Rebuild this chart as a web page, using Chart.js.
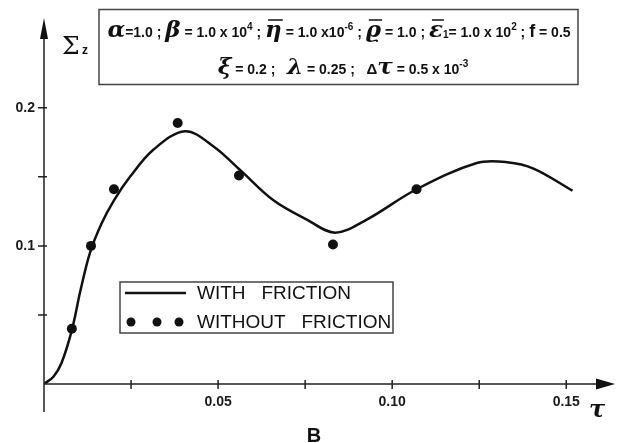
<!DOCTYPE html>
<html>
<head>
<meta charset="utf-8">
<script src="https://cdn.jsdelivr.net/npm/chart.js@4"></script>
<style>
  body { margin: 0; background: #fff; }
  canvas { display: block; }
</style>
</head>
<body>
<canvas id="myChart" width="628" height="443"></canvas>
<script>
// curve with friction (tau, sigma_z)
var tauFric   = [0, 0.0027, 0.005, 0.008, 0.0105, 0.0132, 0.0165, 0.0201, 0.0247, 0.0314, 0.0405, 0.0487, 0.0563, 0.0659, 0.0755, 0.0836, 0.0927, 0.107, 0.1243, 0.133, 0.1406, 0.1518];
var sigmaFric = [0, 0.0053, 0.015, 0.039, 0.068, 0.095, 0.116, 0.133, 0.150, 0.1696, 0.183, 0.172, 0.155, 0.133, 0.119, 0.1096, 0.119, 0.141, 0.160, 0.1606, 0.156, 0.140];

// points without friction
var tauNoFric   = [0.008, 0.0135, 0.0201, 0.0384, 0.056, 0.083, 0.107];
var sigmaNoFric = [0.040, 0.100, 0.141, 0.189, 0.151, 0.101, 0.141];

var xTickLabels = ['0.05', '0.10', '0.15'];
var yTickLabels = ['0.1', '0.2'];

var legendLabels = ['WITH   FRICTION', 'WITHOUT   FRICTION'];

function pairs(xs, ys) {
    return xs.map(function (x, i) { return { x: x, y: ys[i] }; });
}

var SANS = "'Liberation Sans', Arial, sans-serif";
var SERIF = "'DejaVu Serif', serif";

// parameter box rows: [text, kind]  g = greek, s = small, p = superscript, gb = greek with bar
var row1 = [
    ['α', 'g'], ['=1.0 ; ', 's'],
    ['β', 'g'], [' = 1.0 x 10', 's'], ['4', 'p'], [' ; ', 's'],
    ['η', 'gb'], [' = 1.0 x10', 's'], ['-6', 'p'], [' ; ', 's'],
    ['ϱ', 'gb'], [' = 1.0 ; ', 's'],
    ['ε', 'gb'], ['1', 'sub'], ['= 1.0 x 10', 's'], ['2', 'p'], [' ; ', 's'],
    ['f', 'f'], [' = 0.5', 's']
];
var row2 = [
    ['ξ', 'g'], [' = 0.2 ;   ', 's'],
    ['λ', 'g'], [' = 0.25 ;   ', 's'],
    ['Δ', 'd'], ['τ', 'g'], [' = 0.5 x 10', 's'], ['-3', 'p']
];

function segFont(kind) {
    if (kind == 'g' || kind == 'gb') return 'bold italic 23px ' + SERIF;
    if (kind == 'p' || kind == 'sub') return 'bold 10px ' + SANS;
    if (kind == 'f') return 'bold 18px ' + SANS;
    if (kind == 'd') return 'bold 15px ' + SANS;
    return 'bold 14px ' + SANS;
}

function drawRow(ctx, row, cx, base) {
    var total = 0;
    row.forEach(function (s) {
        ctx.font = segFont(s[1]);
        total += ctx.measureText(s[0]).width;
    });
    var x = cx - total / 2;
    row.forEach(function (s) {
        ctx.font = segFont(s[1]);
        var w = ctx.measureText(s[0]).width;
        var y = base;
        if (s[1] == 'p') y = base - 7;
        if (s[1] == 'sub') y = base + 1;
        ctx.fillText(s[0], x, y);
        if (s[1] == 'gb') {
            ctx.beginPath();
            ctx.lineWidth = 1.5;
            ctx.moveTo(x + 3, base - 17);
            ctx.lineTo(x + w + 1, base - 17);
            ctx.stroke();
        }
        x += w;
    });
}

var axesPlugin = {
    id: 'axesPlugin',
    afterDraw: function (chart) {
        var ctx = chart.ctx;
        var area = chart.chartArea;
        var xs = chart.scales.x, ys = chart.scales.y;
        var x0 = xs.getPixelForValue(0), y0 = ys.getPixelForValue(0);
        ctx.save();
        ctx.strokeStyle = '#222';
        ctx.fillStyle = '#111';
        ctx.lineWidth = 1.5;

        // axes
        ctx.beginPath();
        ctx.moveTo(x0, y0);
        ctx.lineTo(area.right - 10, y0);
        ctx.moveTo(x0, y0 + 28);
        ctx.lineTo(x0, area.top + 10);
        ctx.stroke();

        // arrow heads
        ctx.beginPath();
        ctx.moveTo(area.right, y0);
        ctx.lineTo(area.right - 19, y0 - 5.5);
        ctx.lineTo(area.right - 19, y0 + 5.5);
        ctx.closePath();
        ctx.fill();
        ctx.beginPath();
        ctx.moveTo(x0, area.top);
        ctx.lineTo(x0 - 4, area.top + 21);
        ctx.lineTo(x0 + 4, area.top + 21);
        ctx.closePath();
        ctx.fill();

        // tick marks
        ctx.beginPath();
        xs.ticks.forEach(function (t) {
            if (t.value <= 0 || t.value > 0.1501) return;
            var px = xs.getPixelForValue(t.value);
            ctx.moveTo(px, y0 - 4);
            ctx.lineTo(px, y0 + 5);
        });
        ys.ticks.forEach(function (t) {
            if (t.value <= 0 || t.value > 0.2001) return;
            var py = ys.getPixelForValue(t.value);
            ctx.moveTo(x0 - 6, py);
            ctx.lineTo(x0 + 3, py);
        });
        ctx.stroke();

        // axis titles
        ctx.font = '25px ' + SERIF;
        ctx.textBaseline = 'alphabetic';
        ctx.fillText('Σ', 62, 54);
        ctx.font = 'bold 12px ' + SANS;
        ctx.fillText('z', 82, 54);
        ctx.font = 'bold italic 24px ' + SERIF;
        ctx.textAlign = 'center';
        ctx.fillText('τ', 597, 417);
        ctx.font = 'bold 20px ' + SANS;
        ctx.fillText('B', 314, 442);
        ctx.textAlign = 'left';

        // parameter box
        ctx.strokeStyle = '#444';
        ctx.lineWidth = 1.5;
        ctx.strokeRect(99, 9.5, 479, 75);
        ctx.strokeStyle = '#111';
        drawRow(ctx, row1, 339, 37);
        drawRow(ctx, row2, 343, 74);

        // legend
        var ds = chart.data.datasets;
        ctx.strokeStyle = '#444';
        ctx.lineWidth = 1.5;
        ctx.strokeRect(120, 282, 273, 51);
        ctx.strokeStyle = ds[0].borderColor;
        ctx.lineWidth = ds[0].borderWidth;
        ctx.beginPath();
        ctx.moveTo(125, 293);
        ctx.lineTo(186, 293);
        ctx.stroke();
        ctx.fillStyle = ds[1].backgroundColor;
        [131, 157, 179].forEach(function (cx) {
            ctx.beginPath();
            ctx.arc(cx, 322, 4.5, 0, Math.PI * 2);
            ctx.fill();
        });
        ctx.fillStyle = '#111';
        ctx.font = '19px ' + SANS;
        ctx.textBaseline = 'middle';
        ctx.fillText(ds[0].label, 197, 294);
        ctx.fillText(ds[1].label, 197, 323);
        ctx.restore();
    }
};

var ctx = document.getElementById('myChart');
new Chart(ctx, {
    type: 'scatter',
    data: {
        datasets: [{
            label: legendLabels[0],
            data: pairs(tauFric, sigmaFric),
            showLine: true,
            borderColor: '#111',
            borderWidth: 2.5,
            tension: 0.35,
            pointRadius: 0
        }, {
            label: legendLabels[1],
            data: pairs(tauNoFric, sigmaNoFric),
            showLine: false,
            backgroundColor: '#111',
            borderWidth: 0,
            pointRadius: 5
        }]
    },
    options: {
        responsive: false,
        animation: false,
        devicePixelRatio: 1,
        layout: { padding: { left: 0, right: 13, top: 18, bottom: 19 } },
        plugins: { legend: { display: false }, tooltip: { enabled: false } },
        scales: {
            x: {
                type: 'linear',
                min: 0,
                max: 0.164,
                afterFit: function (s) { s.height = 40; },
                grid: { display: false, drawTicks: false },
                border: { display: false },
                ticks: {
                    stepSize: 0.025,
                    includeBounds: false,
                    autoSkip: false,
                    maxRotation: 0,
                    padding: 10,
                    color: '#1a1a1a',
                    font: { family: SANS, size: 14, weight: 'bold' },
                    callback: function (v) {
                        var s = v.toFixed(2);
                        return xTickLabels.indexOf(s) >= 0 ? s : '';
                    }
                }
            },
            y: {
                type: 'linear',
                min: 0,
                max: 0.265,
                afterFit: function (s) { s.width = 44; },
                grid: { display: false, drawTicks: false },
                border: { display: false },
                ticks: {
                    stepSize: 0.05,
                    includeBounds: false,
                    autoSkip: false,
                    padding: 9,
                    color: '#1a1a1a',
                    font: { family: SANS, size: 14, weight: 'bold' },
                    callback: function (v) {
                        var s = v.toFixed(1);
                        if (Math.abs(v * 10 - Math.round(v * 10)) > 1e-6) return '';
                        return yTickLabels.indexOf(s) >= 0 ? s : '';
                    }
                }
            }
        }
    },
    plugins: [axesPlugin]
});
</script>
</body>
</html>
